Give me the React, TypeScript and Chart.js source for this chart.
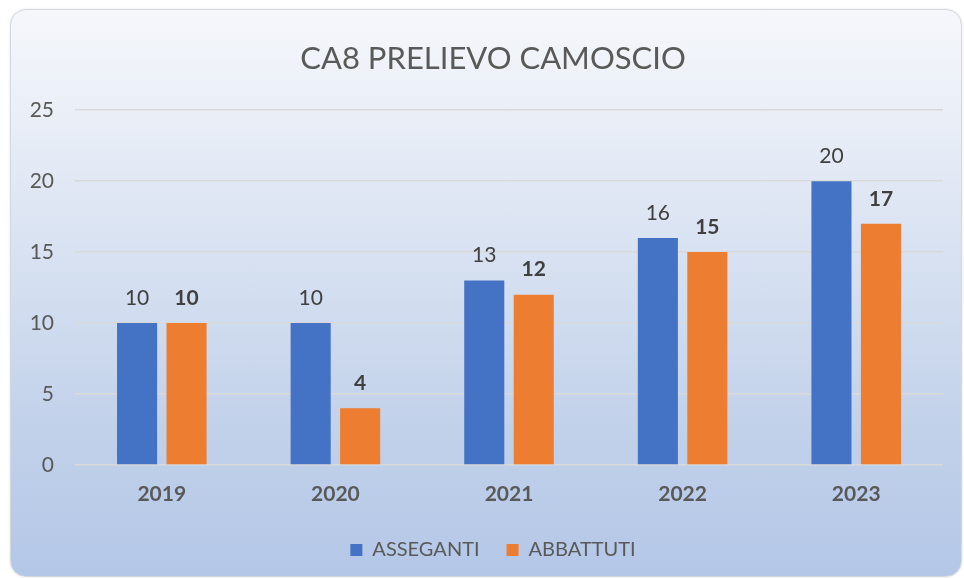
import React, { useEffect, useRef } from "react";
import { Chart, registerables } from "chart.js";

Chart.register(...registerables);

const title = "CA8 PRELIEVO CAMOSCIO";
const years = ["2019", "2020", "2021", "2022", "2023"];
const assegnati = [10, 10, 13, 16, 20];
const abbattuti = [10, 4, 12, 15, 17];
const seriesNames = ["ASSEGANTI", "ABBATTUTI"];
const yMax = 25;
const yStep = 5;

const FONT = "Lato";

const valueLabels = {
  id: "valueLabels",
  afterDatasetsDraw(chart: any) {
    const ctx = chart.ctx;
    ctx.save();
    ctx.textAlign = "center";
    ctx.textBaseline = "middle";
    chart.data.datasets.forEach((ds: any, di: number) => {
      const meta = chart.getDatasetMeta(di);
      meta.data.forEach((bar: any, i: number) => {
        ctx.font = `${di === 1 ? "bold " : ""}21px ${FONT}`;
        ctx.fillStyle = "#404040";
        ctx.fillText(String(ds.data[i]), bar.x, bar.y - 25);
      });
    });
    ctx.restore();
  },
};

export default function App() {
  const ref = useRef<HTMLCanvasElement>(null);
  useEffect(() => {
    const chart = new Chart(ref.current!, {
      type: "bar",
      data: {
        labels: years,
        datasets: [
          { label: seriesNames[0], data: assegnati, backgroundColor: "#4472C4" },
          { label: seriesNames[1], data: abbattuti, backgroundColor: "#ED7D31" },
        ],
      },
      options: {
        responsive: false,
        animation: false,
        maintainAspectRatio: false,
        layout: { padding: { left: 32, right: 18, top: 0, bottom: 6 } },
        datasets: { bar: { categoryPercentage: 0.57, barPercentage: 0.81 } },
        plugins: {
          title: {
            display: true,
            text: title,
            color: "#595959",
            font: { family: FONT, size: 31, weight: "normal" },
            padding: { top: 30, bottom: 33 },
          },
          legend: {
            position: "bottom",
            labels: {
              boxWidth: 12,
              boxHeight: 12,
              padding: 27,
              color: "#595959",
              font: { family: FONT, size: 20 },
            },
          },
          tooltip: { enabled: false },
        },
        scales: {
          x: {
            grid: { display: false, drawTicks: false },
            border: { display: false },
            afterFit: (s: any) => {
              s.height = 48;
            },
            ticks: {
              color: "#595959",
              padding: 17,
              font: { family: FONT, size: 21, weight: "bold" },
            },
          },
          y: {
            min: 0,
            max: yMax,
            afterFit: (s: any) => {
              s.width = 32;
              s._computeLabelArea = () => undefined;
            },
            grid: { color: "#d9d9d9", lineWidth: 1.5, drawTicks: false },
            border: { display: false },
            ticks: {
              stepSize: yStep,
              color: "#595959",
              padding: 21,
              font: { family: FONT, size: 21 },
            },
          },
        },
      },
      plugins: [valueLabels],
    });
    return () => chart.destroy();
  }, []);
  return (
    <div style={{ position: "fixed", left: 0, top: 0, width: 964, height: 578, background: "#fff" }}>
      <div
        style={{
          position: "absolute",
          left: 10,
          top: 9,
          width: 950,
          height: 566,
          borderRadius: 16,
          border: "1px solid #d4d8e0",
          boxShadow: "0 0 2px rgba(0,0,0,0.15)",
          background:
            "linear-gradient(180deg, #f5f7fb 0%, #e9eef7 20%, #d3def0 50%, #c1d1ea 75%, #b4c7e7 100%)",
          overflow: "hidden",
        }}
      >
        <canvas ref={ref} width={950} height={566} style={{ display: "block" }} />
      </div>
    </div>
  );
}
